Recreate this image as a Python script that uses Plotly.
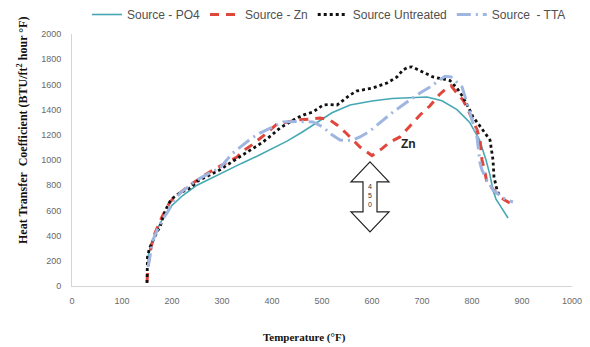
import plotly.graph_objects as go

# ---- data ----
po4_x = [152, 158, 170, 185, 200, 222, 250, 280, 310, 340, 370, 400, 430, 460, 490, 520, 556, 600, 640, 680, 710, 740, 770, 795, 815, 828, 836, 842, 848, 856, 864, 872]
po4_y = [230, 330, 450, 560, 640, 720, 800, 860, 915, 975, 1030, 1090, 1150, 1220, 1300, 1375, 1436, 1468, 1488, 1498, 1500, 1470, 1400, 1300, 1160, 1000, 880, 760, 690, 640, 590, 540]

zn_x = [150, 152, 156, 160, 166, 172, 180, 188, 196, 210, 222, 236, 258, 282, 305, 330, 345, 360, 385, 410, 430, 450, 475, 496, 515, 530, 546, 560, 576, 600, 620, 636, 656, 676, 696, 716, 735, 750, 758, 770, 782, 792, 802, 810, 816, 818, 820, 826, 830, 840, 848, 856, 866, 876]
zn_y = [32, 150, 262, 340, 420, 480, 548, 610, 667, 720, 760, 802, 860, 921, 970, 1024, 1080, 1120, 1200, 1286, 1300, 1318, 1325, 1334, 1320, 1278, 1222, 1170, 1103, 1035, 1090, 1143, 1183, 1270, 1357, 1430, 1520, 1572, 1590, 1530, 1476, 1400, 1318, 1240, 1159, 1080, 1000, 900, 818, 778, 740, 707, 680, 659]

unt_x = [150, 150, 151, 155, 162, 170, 176, 183, 190, 196, 202, 210, 218, 230, 240, 250, 256, 262, 270, 282, 295, 310, 330, 350, 365, 382, 400, 416, 435, 450, 465, 482, 502, 515, 530, 545, 556, 570, 585, 602, 615, 630, 650, 662, 672, 680, 690, 702, 722, 740, 756, 770, 782, 795, 802, 812, 822, 836, 842, 844, 850, 856]
unt_y = [24, 120, 230, 300, 365, 430, 468, 560, 627, 670, 699, 720, 745, 762, 790, 830, 842, 860, 870, 897, 920, 960, 1010, 1064, 1100, 1143, 1200, 1254, 1300, 1334, 1360, 1381, 1436, 1440, 1436, 1480, 1516, 1548, 1560, 1572, 1590, 1611, 1659, 1715, 1735, 1739, 1720, 1699, 1659, 1645, 1630, 1570, 1500, 1400, 1341, 1290, 1238, 1159, 1000, 865, 762, 707]

tta_x = [152, 156, 162, 170, 180, 190, 202, 216, 232, 250, 272, 296, 320, 340, 358, 376, 400, 422, 450, 482, 502, 520, 536, 550, 562, 576, 596, 616, 642, 670, 696, 716, 730, 746, 758, 770, 780, 790, 800, 810, 816, 820, 830, 842, 852, 862, 872, 882]
tta_y = [150, 250, 365, 440, 520, 580, 660, 738, 790, 842, 890, 937, 1050, 1110, 1170, 1214, 1260, 1302, 1305, 1302, 1262, 1200, 1159, 1155, 1159, 1183, 1230, 1294, 1381, 1460, 1532, 1580, 1619, 1665, 1660, 1620, 1580, 1453, 1320, 1183, 976, 920, 840, 762, 730, 699, 680, 667]

x_ticks = [0, 100, 200, 300, 400, 500, 600, 700, 800, 900, 1000]
y_ticks = [0, 200, 400, 600, 800, 1000, 1200, 1400, 1600, 1800, 2000]

series_names = ["Source - PO4", "Source - Zn", "Source Untreated", "Source  - TTA"]

# annotation arrow (data units): centre x, tip top, tip bottom, head depth, head half width, shaft half width
arrow_cx, arrow_top, arrow_bot, head_h, head_w, shaft_w = 596, 985, 429, 159, 38, 14

fig = go.Figure()
fig.add_trace(go.Scatter(x=po4_x, y=po4_y, mode="lines", name=series_names[0],
                         line=dict(color="#45a8b4", width=1.6)))
fig.add_trace(go.Scatter(x=zn_x, y=zn_y, mode="lines", name=series_names[1],
                         line=dict(color="#e0463c", width=3, dash="9px,7px")))
fig.add_trace(go.Scatter(x=unt_x, y=unt_y, mode="lines", name=series_names[2],
                         line=dict(color="#111111", width=2.8, dash="3px,3px")))
fig.add_trace(go.Scatter(x=tta_x, y=tta_y, mode="lines", name=series_names[3],
                         line=dict(color="#9fb6e0", width=3, dash="14px,5px,2px,5px")))

c = arrow_cx
path = (f"M {c},{arrow_top} L {c+head_w},{arrow_top-head_h} L {c+shaft_w},{arrow_top-head_h} "
        f"L {c+shaft_w},{arrow_bot+head_h} L {c+head_w},{arrow_bot+head_h} L {c},{arrow_bot} "
        f"L {c-head_w},{arrow_bot+head_h} L {c-shaft_w},{arrow_bot+head_h} L {c-shaft_w},{arrow_top-head_h} "
        f"L {c-head_w},{arrow_top-head_h} Z")
fig.add_shape(type="path", path=path, xref="x", yref="y",
              line=dict(color="#222222", width=1.2), fillcolor="white")

fig.add_annotation(x=c, y=(arrow_top + arrow_bot) / 2 + 15, xref="x", yref="y",
                   text="4<br>5<br>0", showarrow=False,
                   font=dict(family="Liberation Sans", size=7, color="#333333"))
fig.add_annotation(x=672, y=1127, xref="x", yref="y", text="<b>Zn</b>", showarrow=False,
                   font=dict(family="Liberation Sans", size=12, color="#222222"))

fig.add_annotation(x=0.465, y=-0.205, xref="paper", yref="paper", yanchor="middle",
                   text="<b>Temperature (°F)</b>", showarrow=False,
                   font=dict(family="Liberation Serif", size=11, color="#111111"))
fig.add_annotation(x=-0.10, y=0.615, xref="paper", yref="paper", textangle=-90,
                   xanchor="center", yanchor="middle",
                   text="<b>Heat Transfer  Coefficient (BTU/ft<sup>2</sup> hour °F)</b>", showarrow=False,
                   font=dict(family="Liberation Serif", size=12, color="#111111"))

fig.update_layout(
    width=590, height=347,
    margin=dict(l=72, r=18, t=34, b=61, autoexpand=False),
    paper_bgcolor="white", plot_bgcolor="white",
    showlegend=True,
    legend=dict(orientation="h", x=0.03, xanchor="left", y=1.0, yanchor="top",
                yref="container",
                font=dict(family="Liberation Sans", size=12, color="#505050"),
                bgcolor="rgba(0,0,0,0)", itemwidth=30, tracegroupgap=0),
    xaxis=dict(range=[0, 1000], tickvals=x_ticks, showgrid=False, zeroline=False,
               showline=True, linecolor="#d4d4d4", linewidth=1, ticks="",
               ticklabelstandoff=6,
               tickfont=dict(family="Liberation Sans", size=9, color="#6a6a6a")),
    yaxis=dict(range=[0, 2000], tickvals=y_ticks, showgrid=False, zeroline=False,
               showline=True, linecolor="#d4d4d4", linewidth=1, ticks="",
               ticklabelstandoff=8,
               tickfont=dict(family="Liberation Sans", size=9, color="#6a6a6a")),
)

fig.write_html("out.html", config={"displayModeBar": False},
               post_script="document.body.style.margin='0px';")
